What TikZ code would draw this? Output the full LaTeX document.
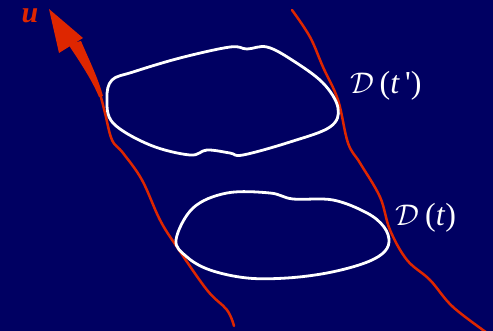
\documentclass[tikz,border=0pt]{standalone}
\usepackage{fontspec}
\setmainfont{Liberation Serif}
\definecolor{bgnavy}{RGB}{0,0,98}
\definecolor{redline}{RGB}{222,38,0}
\newcommand{\bigD}{\scalebox{1.2}{$\mathcal{D}$}}
\begin{document}
\begin{tikzpicture}[x=1pt,y=-1pt,
  loop/.style={draw=white,line width=2.8pt,smooth cycle,tension=0.6},
  redcurve/.style={draw=redline,line width=2.5pt,line cap=round,line join=round},
  dlabel/.style={text=white,inner sep=0pt,font=\fontsize{32}{34}\selectfont}]
\fill[bgnavy] (0,0) rectangle (493,331);
\useasboundingbox (0,0) rectangle (493,331);
\begin{scope}
\clip (0,0) rectangle (493,331);
% right red curve
\draw[redcurve] plot[smooth,tension=0.6] coordinates {(292,10) (310,37) (323,67) (338,100) (348,143) (360,163) (380,197) (390,230) (407,260) (430,280) (453,307) (490,335)};
% left red curve
\draw[redcurve] plot[smooth,tension=0.6] coordinates {(96,86) (100,94) (105,113) (112,140) (123,153) (142,180) (160,220) (177,247) (207,290) (227,310) (234,326)};
\end{scope}
% arrow shaft and head
\fill[redline] (68,44) -- (81,41) .. controls (90,62) and (98,78) .. (103,96) -- (99,97) .. controls (92,80) and (80,62) .. cycle;
\fill[redline] (49,9) -- (83,38) -- (59,53) -- cycle;
\coordinate (tip) at (49,9);
\node[text=redline,font=\fontsize{30}{30}\selectfont\bfseries\itshape,inner sep=0pt] (u) at (30,16) {u};
% upper loop D(t')
\draw[loop] plot coordinates {(107,98) (112,80) (133,72) (180,58) (230,47) (247,49) (267,47) (292,60) (323,83) (338,108) (330,127) (290,142) (243,155) (230,153) (207,150) (190,155) (150,145) (113,123)};
% lower loop D(t)
\draw[loop] plot coordinates {(176,240) (193,208) (227,193) (270,193) (293,199) (333,200) (367,213) (384,227) (389,242) (382,254) (362,264) (327,273) (287,278) (247,278) (210,270) (187,257)};
\node[dlabel] (dtp) at (386,86) {\bigD\,(\textit{t}\,\textquotesingle)};
\node[dlabel] (dt) at (426,218) {\bigD\,(\textit{t})};
\end{tikzpicture}
\end{document}
